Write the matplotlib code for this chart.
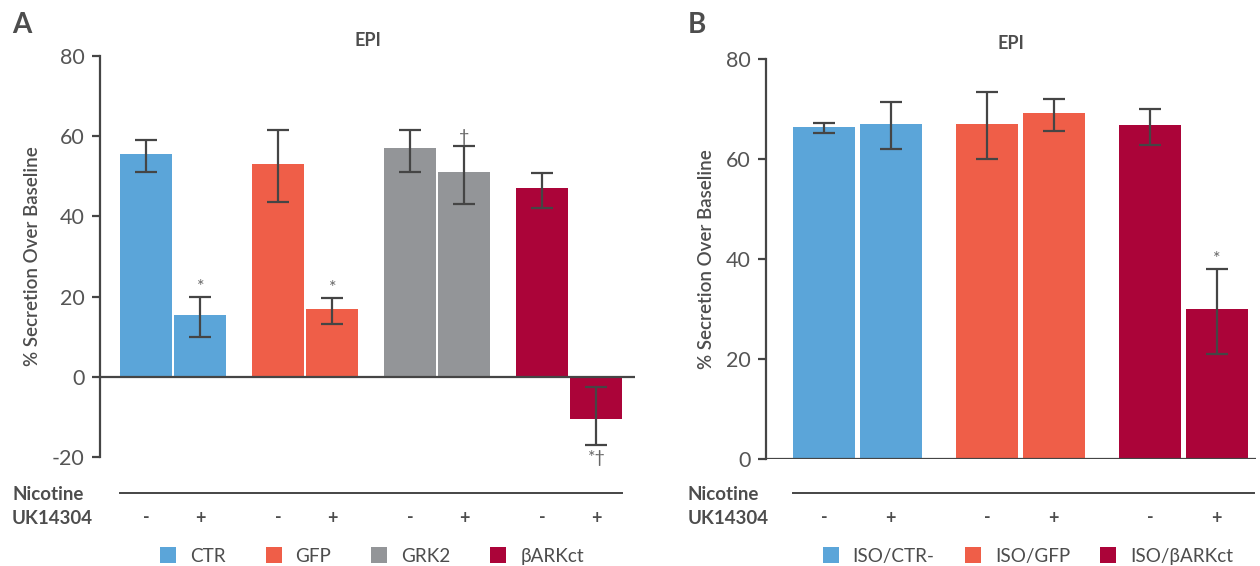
import matplotlib
matplotlib.use('Agg')
import matplotlib.pyplot as plt
import matplotlib.transforms as mtransforms
from matplotlib.patches import Patch

plt.rcParams['font.family'] = ['Lato', 'DejaVu Sans']
plt.rcParams['axes.unicode_minus'] = False

TXT = '#4d4d4d'
ERR = '#454545'

# パネルA のデータ
groups_a = ['CTR', 'GFP', 'GRK2', 'βARKct']
colors_a = ['#5ba5d9', '#ef5e48', '#939598', '#ab0439']
mean_a = [[55.5, 15.5], [53.0, 17.0], [57.0, 51.0], [47.0, -10.5]]
low_a = [[51.0, 10.0], [43.5, 13.2], [51.0, 43.0], [42.0, -17.0]]
high_a = [[59.0, 20.0], [61.5, 19.7], [61.5, 57.5], [50.8, -2.5]]
marks_a = [[None, '*'], [None, '*'], [None, '†'], [None, '*†']]

# パネルB のデータ
groups_b = ['ISO/CTR-', 'ISO/GFP', 'ISO/βARKct']
colors_b = ['#5ba5d9', '#ef5e48', '#ab0439']
mean_b = [[66.5, 67.0], [67.0, 69.3], [66.8, 30.0]]
low_b = [[65.2, 62.0], [60.0, 65.7], [62.8, 21.0]]
high_b = [[67.3, 71.5], [73.5, 72.0], [70.0, 38.0]]
marks_b = [[None, None], [None, None], [None, '*']]

signs = ['-', '+']

fig = plt.figure(figsize=(12.6, 5.66), dpi=100)


def draw_panel(ax, groups, colors, mean, low, high, marks, offset, width,
               xlim, ylim, yticks, line_y, sign_y, mark_pad, line_extra):
    trans = mtransforms.blended_transform_factory(ax.transData, ax.transAxes)
    xs_all = []
    for g in range(len(groups)):
        for i in range(2):
            x = g + i * offset
            xs_all.append(x)
            m = mean[g][i]
            ax.bar(x, m, width=width, color=colors[g], zorder=2)
            ax.errorbar(x, m, yerr=[[m - low[g][i]], [high[g][i] - m]],
                        fmt='none', ecolor=ERR, elinewidth=1.6,
                        capsize=8, capthick=1.6, zorder=3)
            mk = marks[g][i]
            if mk:
                if m < 0:
                    ax.text(x, low[g][i] - mark_pad, mk, ha='center', va='top',
                            fontsize=13, color='#666666', zorder=4)
                else:
                    ax.text(x, high[g][i] + mark_pad * 0.3, mk, ha='center',
                            va='bottom', fontsize=13, color='#666666', zorder=4)
            ax.text(x, sign_y, signs[i], transform=trans, ha='center',
                    va='center', fontsize=13, fontweight='bold', color=TXT,
                    clip_on=False)
    ax.axhline(0, color=ERR, linewidth=1.6, zorder=3)
    ax.plot([xs_all[0] - width / 2, xs_all[-1] + width / 2 + line_extra],
            [line_y, line_y], transform=trans, color=ERR, linewidth=1.4,
            clip_on=False)
    ax.set_xlim(*xlim)
    ax.set_ylim(*ylim)
    ax.set_yticks(yticks)
    ax.set_xticks([])
    for s in ['top', 'right', 'bottom']:
        ax.spines[s].set_visible(False)
    ax.spines['left'].set_color(ERR)
    ax.spines['left'].set_linewidth(1.6)
    ax.tick_params(axis='y', colors=ERR, labelcolor='#555555', labelsize=15.5,
                   length=6, width=1.6, pad=5)
    ax.set_ylabel('% Secretion Over Baseline', fontsize=13.5,
                  fontweight='semibold', color=TXT, labelpad=8)
    ax.set_title('EPI', fontsize=13, fontweight='bold', color=TXT, pad=7)


ax_a = fig.add_axes([100 / 1260, 1 - 457 / 566, 535 / 1260, 401 / 566])
draw_panel(ax_a, groups_a, colors_a, mean_a, low_a, high_a, marks_a,
           0.413, 0.394, (-0.348, 3.705), (-20, 80), [-20, 0, 20, 40, 60, 80],
           -36 / 401, -61 / 401, 1.2, 0.0)

ax_b = fig.add_axes([766 / 1260, 1 - 459 / 566, 490 / 1260, 400 / 566])
draw_panel(ax_b, groups_b, colors_b, mean_b, low_b, high_b, marks_b,
           0.408, 0.38, (-0.356, 2.65), (0, 80), [0, 20, 40, 60, 80],
           -34 / 400, -59 / 400, 1.2, 0.04)

for x0, letter in [(12, 'A'), (688, 'B')]:
    fig.text(x0 / 1260, 1 - 25 / 566, letter, fontsize=20, fontweight='bold',
             color=TXT, va='center', ha='left')
    fig.text(x0 / 1260, 1 - 494 / 566, 'Nicotine', fontsize=13.5,
             fontweight='bold', color=TXT, va='center', ha='left')
    fig.text(x0 / 1260, 1 - 518 / 566, 'UK14304', fontsize=13.5,
             fontweight='bold', color=TXT, va='center', ha='left')

# 凡例
for groups, colors, cx, cs in [(groups_a, colors_a, 372, 2.1),
                               (groups_b, colors_b, 1028, 1.6)]:
    handles = [Patch(facecolor=c, edgecolor='none') for c in colors]
    leg = fig.legend(handles, groups, loc='center', ncol=len(groups),
                     bbox_to_anchor=(cx / 1260, 1 - 556 / 566), frameon=False,
                     fontsize=13.6, handlelength=0.85, handleheight=0.95,
                     handletextpad=0.74, columnspacing=cs, borderpad=0)
    for t in leg.get_texts():
        t.set_color(TXT)

fig.savefig('out.png', dpi=100)
